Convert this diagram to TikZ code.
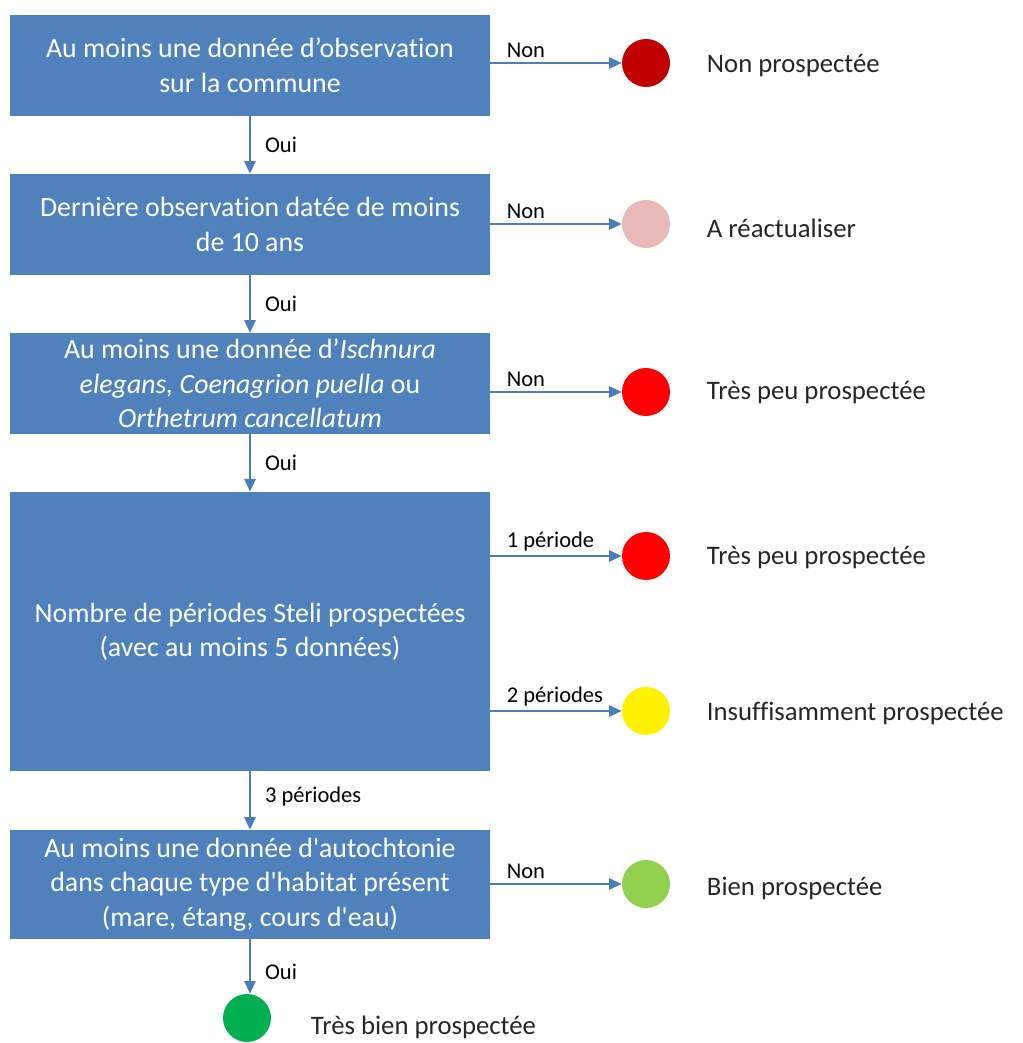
\documentclass[tikz,border=0pt]{standalone}
\usepackage{fontspec}
\setmainfont[Ligatures={TeX,NoCommon}]{Carlito}
\usetikzlibrary{arrows.meta}
\definecolor{boxblue}{HTML}{4F81BD}
\definecolor{arrblue}{HTML}{4A7EBB}
\definecolor{darkred}{HTML}{C00000}
\definecolor{palered}{HTML}{E6B8B7}
\definecolor{lightgreen}{HTML}{92D050}
\definecolor{deepgreen}{HTML}{00B050}
\newcommand{\apo}{\textquotesingle}
\begin{document}
\begin{tikzpicture}[x=0.025cm, y=-0.025cm,
    testbox/.style={fill=boxblue, text=white, align=center, minimum width=12cm, inner sep=0pt,
      font=\fontsize{19.8}{24.5}\selectfont},
    dot/.style={circle, minimum size=1.2cm, inner sep=0pt},
    outcome/.style={anchor=west, text=black!85, font=\fontsize{19}{23}\selectfont},
    lab/.style={text=black, font=\fontsize{16}{19}\selectfont, inner sep=1pt},
    arr/.style={arrblue, line width=1.4pt, -{Triangle[length=9pt, width=8pt]}}]
  \useasboundingbox (0,0) rectangle (1022,1043);
  % questions
  \node[testbox, minimum height=2.52cm] (q1) at (250,65.5) {Au moins une donnée d’observation\\sur la commune};
  \node[testbox, minimum height=2.52cm] (q2) at (250,224.5) {Dernière observation datée de moins\\de 10 ans};
  \node[testbox, minimum height=2.52cm] (q3) at (250,383.5) {Au moins une donnée d’\textit{Ischnura}\\\textit{elegans, Coenagrion puella} ou\\\textit{Orthetrum cancellatum}};
  \node[testbox, minimum height=6.98cm] (q4) at (250,631.5) {Nombre de périodes Steli prospectées\\(avec au moins 5 données)};
  \node[testbox, minimum height=2.72cm] (q5) at (250,884.5) {Au moins une donnée d\apo autochtonie\\dans chaque type d\apo habitat présent\\(mare, étang, cours d\apo eau)};
  % results
  \node[dot, fill=darkred] (r1) at (646,63) {};
  \node[dot, fill=palered] (r2) at (646,224) {};
  \node[dot, fill=red] (r3) at (646,392) {};
  \node[dot, fill=red] (r4) at (646,556) {};
  \node[dot, fill=yellow] (r5) at (646,711) {};
  \node[dot, fill=lightgreen] (r6) at (646,884) {};
  \node[dot, fill=deepgreen] (r7) at (247,1018) {};
  \node[outcome] (t1) at (702,66) {Non prospectée};
  \node[outcome] (t2) at (702,228) {A réactualiser};
  \node[outcome] (t3) at (702,393) {Très peu prospectée};
  \node[outcome] (t4) at (702,558) {Très peu prospectée};
  \node[outcome] (t5) at (702,713) {Insuffisamment prospectée};
  \node[outcome] (t6) at (702,888) {Bien prospectée};
  \node[outcome] (t7) at (306,1027) {Très bien prospectée};
  % oui / non
  \draw[arr] (q1.east |- r1) -- node[lab, pos=0, anchor=south west, xshift=10pt, yshift=2pt] {Non} (r1);
  \draw[arr] (q2.east |- r2) -- node[lab, pos=0, anchor=south west, xshift=10pt, yshift=2pt] {Non} (r2);
  \draw[arr] (q3.east |- r3) -- node[lab, pos=0, anchor=south west, xshift=10pt, yshift=2pt] {Non} (r3);
  \draw[arr] (q4.east |- r4) -- node[lab, pos=0, anchor=south west, xshift=10pt, yshift=2pt] {1 période} (r4);
  \draw[arr] (q4.east |- r5) -- node[lab, pos=0, anchor=south west, xshift=10pt, yshift=2pt] {2 périodes} (r5);
  \draw[arr] (q5.east |- r6) -- node[lab, pos=0, anchor=south west, xshift=10pt, yshift=2pt] {Non} (r6);
  \draw[arr] (q1.south -| 250,0) -- node[lab, anchor=west, xshift=9pt] {Oui} (q2.north -| 250,0);
  \draw[arr] (q2.south -| 250,0) -- node[lab, anchor=west, xshift=9pt] {Oui} (q3.north -| 250,0);
  \draw[arr] (q3.south -| 250,0) -- node[lab, anchor=west, xshift=9pt] {Oui} (q4.north -| 250,0);
  \draw[arr] (q4.south -| 250,0) -- node[lab, anchor=west, xshift=9pt, yshift=3pt] {3 périodes} (q5.north -| 250,0);
  \draw[arr] (q5.south -| 250,0) -- node[lab, anchor=west, xshift=9pt, yshift=-4pt] {Oui} (r7.north -| 250,0);
\end{tikzpicture}
\end{document}
